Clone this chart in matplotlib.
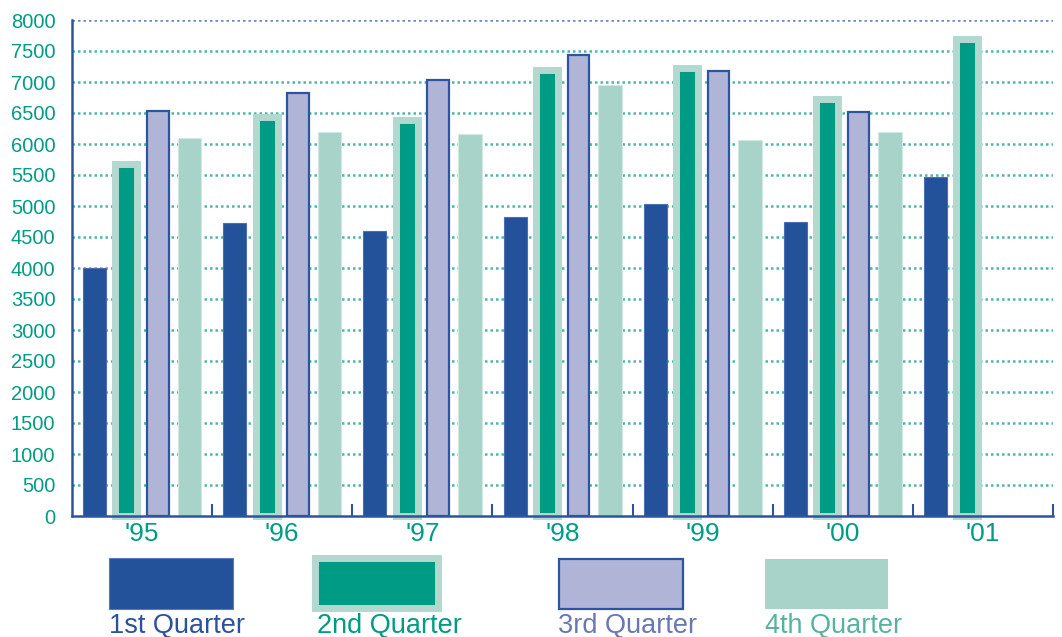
import matplotlib
matplotlib.use("Agg")
import matplotlib.pyplot as plt
from matplotlib.patches import Rectangle
import numpy as np

plt.rcParams['font.family'] = ['Liberation Sans', 'DejaVu Sans']

# ---- data ----
years = ["'95", "'96", "'97", "'98", "'99", "'00", "'01"]
q1 = [4000, 4730, 4600, 4820, 5030, 4750, 5460]
q2 = [5680, 6430, 6390, 7190, 7220, 6720, 7700]
q3 = [6530, 6820, 7040, 7440, 7180, 6520]
q4 = [6100, 6190, 6160, 6950, 6060, 6190]
series_names = ["1st Quarter", "2nd Quarter", "3rd Quarter", "4th Quarter"]
yticks = list(range(0, 8001, 500))

# ---- colours ----
BLUE = '#23519A'
BLUE_EDGE = '#2B55A0'
TEAL = '#009B85'
TEAL_EDGE = '#B2D8CF'
LAV = '#B0B4D6'
MINT = '#A8D3C8'
TICK_TEAL = '#009C86'
GRID_TEAL = '#4DB6A6'
GRID_BLUE = '#6B84C4'

W, H = 1062, 637
fig = plt.figure(figsize=(W / 100, H / 100), dpi=100)
ax = fig.add_axes([72 / W, (H - 516) / H, (1053 - 72) / W, 496 / H])

n = len(years)
centers = np.arange(n) + 0.5
offs = [-0.338, -0.112, 0.113, 0.338]
bw = 0.164

# grid
for v in yticks[1:-1]:
    ax.axhline(v, color=GRID_TEAL, lw=1.8, ls=(0, (1, 1.2)), zorder=0.5)
ax.axhline(8000, color=GRID_BLUE, lw=1.8, ls=(0, (1, 1.2)), zorder=0.5)

ax.bar(centers[:len(q1)] + offs[0], q1, width=bw, color=BLUE,
       edgecolor='#4D6FB0', linewidth=0.8, zorder=2)
ax.bar(centers[:len(q2)] + offs[1], q2, width=0.157, color=TEAL,
       edgecolor=TEAL_EDGE, linewidth=5.0, zorder=2, clip_on=False)
ax.bar(centers[:len(q3)] + offs[2], q3, width=bw - 0.01, color=LAV,
       edgecolor=BLUE_EDGE, linewidth=1.6, zorder=2)
ax.bar(centers[:len(q4)] + offs[3], q4, width=bw + 0.005, color=MINT,
       edgecolor='#D2E9E3', linewidth=0.8, zorder=2)

ax.set_xlim(0, n)
ax.set_ylim(0, 8000)

for s in ['top', 'right']:
    ax.spines[s].set_visible(False)
for s in ['left', 'bottom']:
    ax.spines[s].set_color(BLUE_EDGE)
    ax.spines[s].set_linewidth(1.8)
    ax.spines[s].set_zorder(3)

ax.set_yticks(yticks)
ax.set_yticklabels([str(v) for v in yticks])
ax.tick_params(axis='y', length=0, pad=12, labelsize=14.5, labelcolor=TICK_TEAL)

ax.set_xticks(np.arange(1, n + 1))
ax.set_xticklabels([])
ax.tick_params(axis='x', which='major', direction='in', length=8.5,
               width=1.5, color=BLUE_EDGE)
ax.set_xticks(centers, minor=True)
ax.set_xticklabels(years, minor=True)
ax.tick_params(axis='x', which='minor', length=0, pad=4, labelsize=19,
               labelcolor=TICK_TEAL)


# ---- legend (figure pixel coords) ----
def fx(px):
    return px / W


def fy(py):
    return (H - py) / H


def box(x0, y0, x1, y1, **kw):
    fig.add_artist(Rectangle((fx(x0), fy(y1)), fx(x1) - fx(x0), fy(y0) - fy(y1),
                             transform=fig.transFigure, **kw))


box(109, 558, 233, 609, facecolor=BLUE, edgecolor='#5A7AB8', lw=0.8)
box(315, 558, 437.5, 607.5, facecolor=TEAL, edgecolor=TEAL_EDGE, lw=5.0)
box(558.5, 558.5, 682.5, 608.5, facecolor=LAV, edgecolor=BLUE_EDGE, lw=1.6)
box(765, 559, 888, 609, facecolor=MINT, edgecolor='none')

leg_x = [109, 317, 558, 765]
leg_col = ['#2B529A', '#009B85', '#6B77B5', '#55B3A0']
for name, x, c in zip(series_names, leg_x, leg_col):
    fig.text(fx(x), fy(632.5), name, color=c, fontsize=19.5, ha='left', va='baseline')

fig.savefig('out.png', dpi=100)
